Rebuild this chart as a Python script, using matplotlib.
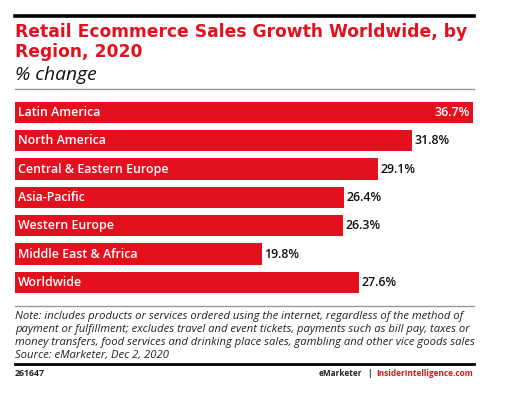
import matplotlib
matplotlib.use("Agg")
import matplotlib.pyplot as plt
from matplotlib.lines import Line2D

categories = ["Latin America", "North America", "Central & Eastern Europe",
              "Asia-Pacific", "Western Europe", "Middle East & Africa", "Worldwide"]
values = [36.7, 31.8, 29.1, 26.4, 26.3, 19.8, 27.6]
labels = ["36.7%", "31.8%", "29.1%", "26.4%", "26.3%", "19.8%", "27.6%"]

RED = "#e3111e"
W, H = 508, 399
fig = plt.figure(figsize=(W / 100, H / 100), dpi=100)
FONT = "Open Sans"
TFONT = "DejaVu Sans"

def fx(px):
    return px / W

def fy(py):
    return 1 - py / H

def fit(t, width_px):
    fig.canvas.draw()
    r = fig.canvas.get_renderer()
    w = t.get_window_extent(r).width
    t.set_fontsize(t.get_fontsize() * width_px / w)

fig.add_artist(Line2D([fx(15), fx(474)], [fy(16), fy(16)], color="black", lw=2.6))
fig.add_artist(Line2D([fx(15), fx(474)], [fy(89), fy(89)], color="#999999", lw=1.0))
fig.add_artist(Line2D([fx(15), fx(474)], [fy(306), fy(306)], color="#999999", lw=1.0))
fig.add_artist(Line2D([fx(15), fx(474)], [fy(364), fy(364)], color="black", lw=2.0))

t1 = fig.text(fx(15), fy(32), "Retail Ecommerce Sales Growth Worldwide, by", color=RED,
              fontsize=12.5, fontweight="bold", family=TFONT, va="center", ha="left")
fit(t1, 451)
t2 = fig.text(fx(15), fy(52), "Region, 2020", color=RED,
              fontsize=t1.get_fontsize(), fontweight="bold", family=TFONT, va="center", ha="left")
t3 = fig.text(fx(15), fy(75), "% change", color="#111111",
              fontsize=11.5, style="italic", family=FONT, va="center", ha="left")
fit(t3, 82)

top_px, bot_px = 98.3, 296.5
ax = fig.add_axes([fx(15), fy(bot_px), fx(473) - fx(15), (bot_px - top_px) / H])
pos = list(range(len(categories)))
ax.barh(pos, values, height=0.75, color=RED, edgecolor="none")
ax.set_xlim(0, values[0])
ax.set_ylim(len(categories) - 0.5, -0.5)
ax.axis("off")

for i, (c, v, l) in enumerate(zip(categories, values, labels)):
    ax.text(0.25, i, c, color="white", fontsize=8.9, fontweight="semibold",
            family=FONT, va="center", ha="left")
    if i == 0:
        ax.text(v - 0.3, i, l, color="white", fontsize=8.9, fontweight="semibold",
                family=FONT, va="center", ha="right")
    else:
        ax.text(v + 0.2, i, l, color="#111111", fontsize=8.9, fontweight="semibold",
                family=FONT, va="center", ha="left")

notes = ["Note: includes products or services ordered using the internet, regardless of the method of",
         "payment or fulfillment; excludes travel and event tickets, payments such as bill pay, taxes or",
         "money transfers, food services and drinking place sales, gambling and other vice goods sales",
         "Source: eMarketer, Dec 2, 2020"]
nt = []
for k, line in enumerate(notes):
    nt.append(fig.text(fx(15), fy(316 + k * 13.2), line, color="#222222", fontsize=7.3,
                       style="italic", family=FONT, va="center", ha="left"))
fit(nt[2], 458)
for t in nt:
    t.set_fontsize(nt[2].get_fontsize())

f1 = fig.text(fx(15), fy(374), "261647", color="#222222", fontsize=6.0,
              fontweight="bold", family=FONT, va="center", ha="left")
fit(f1, 30)
t_site = fig.text(fx(473), fy(374), "InsiderIntelligence.com", color=RED, fontsize=6.0,
                  fontweight="bold", family=FONT, va="center", ha="right")
fit(t_site, 97)
fig.text(fx(362.5), fy(374), "eMarketer", color="#222222", fontsize=t_site.get_fontsize(),
         fontweight="bold", family=FONT, va="center", ha="right")
fig.text(fx(369), fy(374), "|", color="#222222", fontsize=t_site.get_fontsize(),
         fontweight="bold", family=FONT, va="center", ha="center")

fig.savefig("out.png", dpi=100)
